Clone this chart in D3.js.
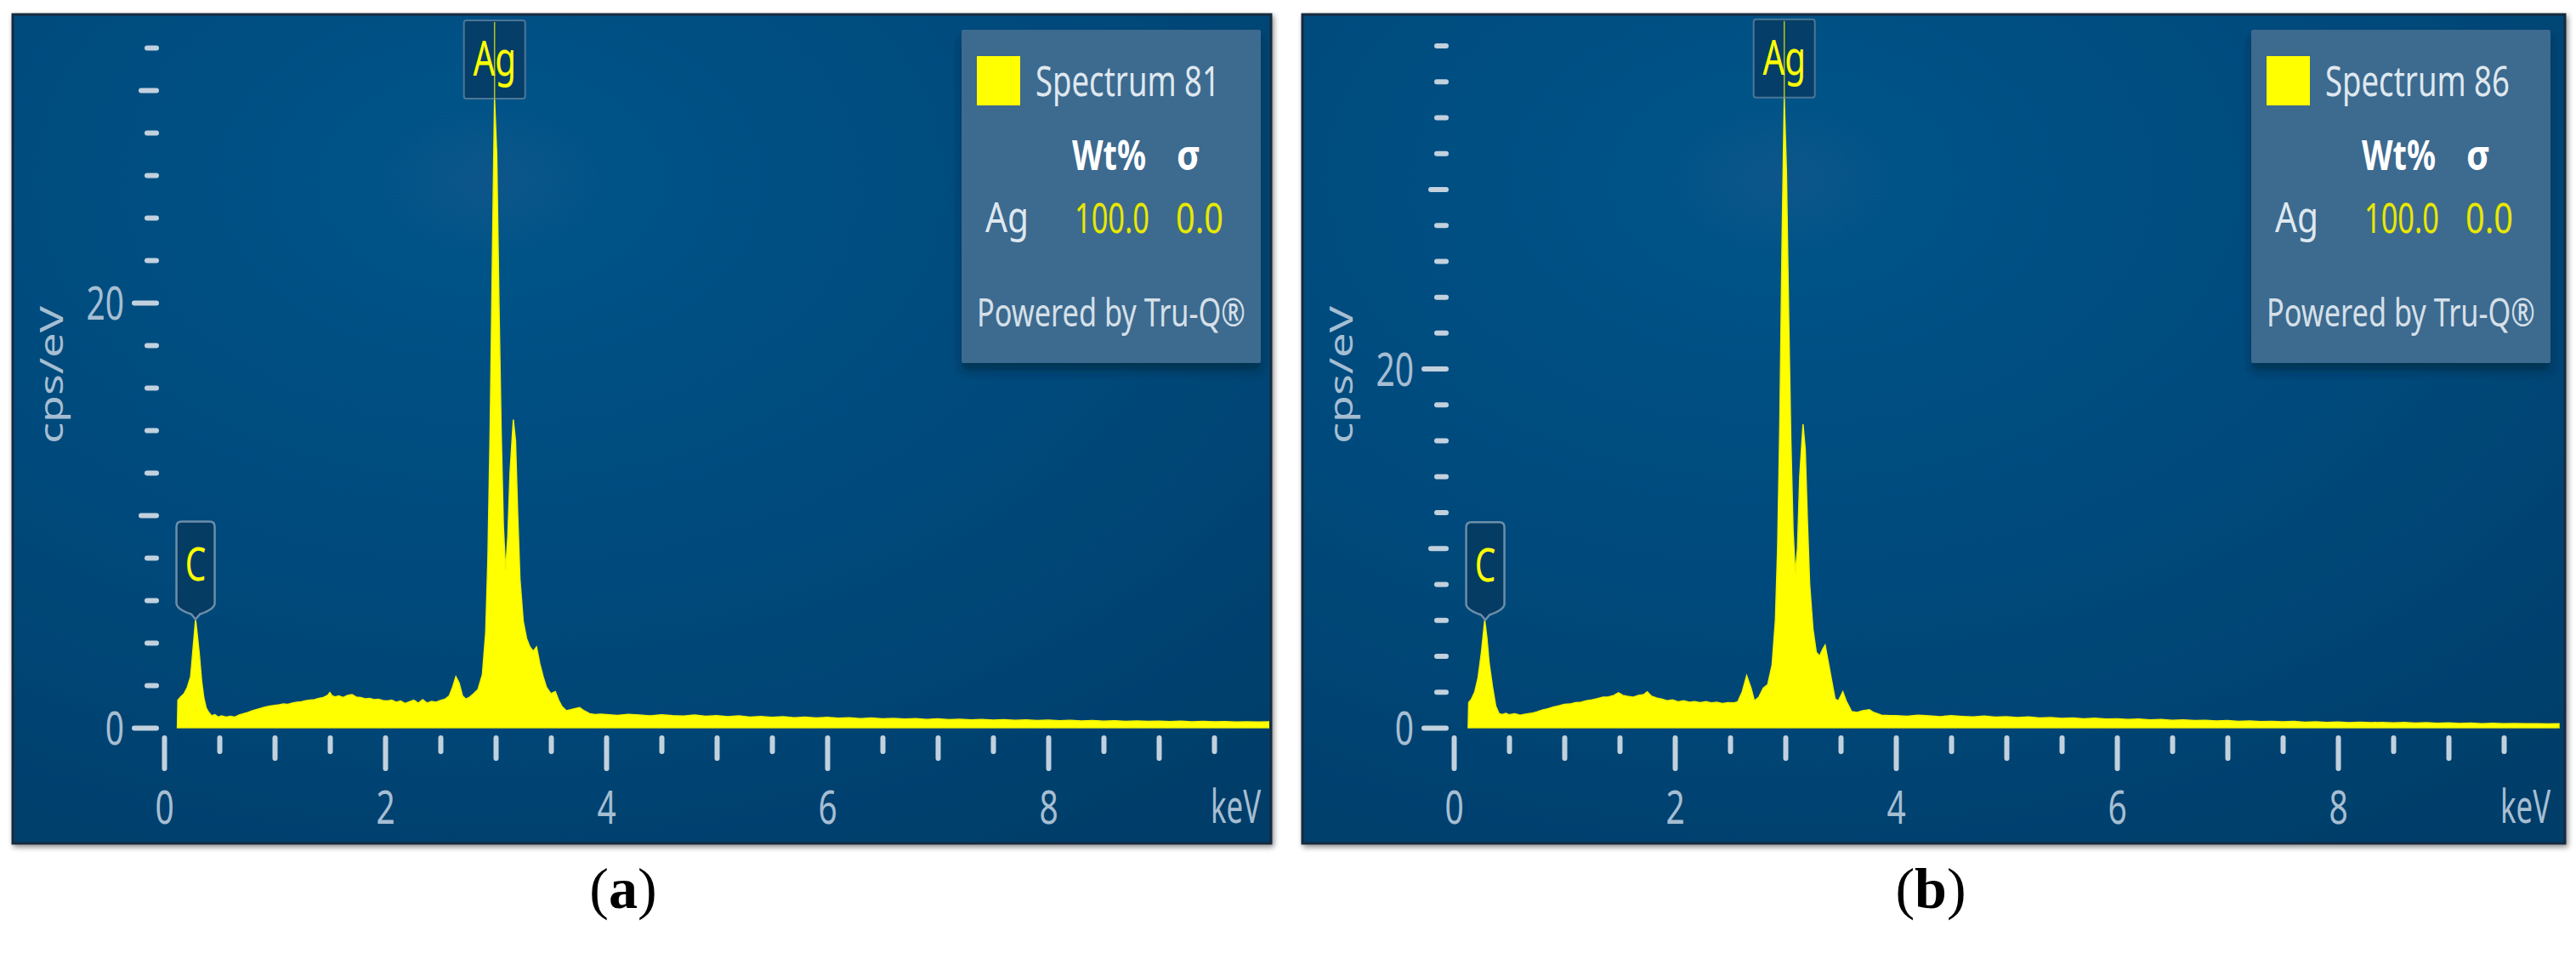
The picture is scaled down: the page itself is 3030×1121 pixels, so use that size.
<!DOCTYPE html>
<html><head><meta charset="utf-8">
<script src="https://cdn.jsdelivr.net/npm/d3@7"></script>
<style>
html,body{margin:0;padding:0;background:#ffffff;}
svg{display:block;}
</style></head><body>
<svg id="chart" width="3030" height="1121"></svg>
<script>
// ---------------- DATA ----------------
// Spectrum (a): [keV, cps/eV] (below 4 keV)
const spectrumLowA = [
[0.12,0],[0.125,1.3],[0.15,1.45],[0.18,1.6],[0.21,1.9],[0.24,2.4],[0.26,3.6],[0.285,5.1],[0.30,4.4],[0.32,3.4],
[0.34,2.2],[0.36,1.4],[0.38,0.95],[0.40,0.75],[0.43,0.56],[0.46,0.62],[0.49,0.5],[0.52,0.56],[0.56,0.5],[0.60,0.54],
[0.64,0.5],[0.68,0.6],[0.72,0.66],[0.76,0.72],[0.80,0.8],[0.84,0.86],[0.88,0.92],[0.92,0.98],[0.96,1.02],[1.00,1.05],
[1.04,1.08],[1.08,1.12],[1.12,1.1],[1.16,1.16],[1.20,1.2],[1.24,1.22],[1.28,1.27],[1.32,1.3],[1.36,1.32],[1.40,1.38],
[1.44,1.42],[1.48,1.52],[1.50,1.66],[1.52,1.5],[1.55,1.45],[1.58,1.5],[1.62,1.42],[1.66,1.52],[1.70,1.56],[1.74,1.44],
[1.78,1.42],[1.82,1.36],[1.86,1.38],[1.90,1.32],[1.94,1.34],[1.98,1.28],[2.02,1.26],[2.06,1.3],[2.10,1.2],[2.14,1.26],
[2.18,1.14],[2.22,1.22],[2.26,1.3],[2.30,1.16],[2.34,1.32],[2.38,1.16],[2.42,1.24],[2.46,1.2],[2.50,1.28],[2.54,1.34],
[2.58,1.5],[2.61,1.9],[2.64,2.4],[2.67,2.1],[2.70,1.5],[2.73,1.35],[2.76,1.42],[2.80,1.6],[2.84,1.8],[2.88,2.5],
[2.91,4.5],[2.93,8],[2.95,14],[2.97,22],[2.99,29.6],[3.01,27],[3.03,20],[3.05,14],[3.07,9.5],[3.09,7.4],
[3.11,9],[3.13,12],[3.16,14.5],[3.18,13.5],[3.20,10],[3.22,7],[3.25,5],[3.28,4.2],[3.31,3.8],[3.34,3.6],
[3.37,3.8],[3.40,3.0],[3.43,2.4],[3.46,1.9],[3.50,1.6],[3.54,1.7],[3.57,1.3],[3.60,1.0],[3.64,0.8],[3.68,0.85],
[3.72,0.9],[3.76,0.95],[3.80,0.8],[3.85,0.66],[3.90,0.62],[3.95,0.64]
];
// Spectrum (b)
const spectrumLowB = [
[0.13,0],[0.135,1.4],[0.16,1.6],[0.19,2.0],[0.22,2.8],[0.25,4.2],[0.28,6.0],[0.30,5.0],[0.32,3.6],[0.35,2.3],
[0.38,1.2],[0.41,0.78],[0.44,0.74],[0.47,0.8],[0.50,0.72],[0.55,0.78],[0.60,0.7],[0.65,0.76],[0.70,0.8],[0.75,0.88],
[0.80,0.98],[0.85,1.05],[0.90,1.15],[0.95,1.22],[1.00,1.3],[1.05,1.32],[1.10,1.4],[1.15,1.42],[1.20,1.5],[1.25,1.55],
[1.30,1.62],[1.35,1.7],[1.40,1.72],[1.45,1.8],[1.49,1.95],[1.53,1.8],[1.57,1.75],[1.62,1.7],[1.67,1.8],[1.72,1.85],
[1.75,2.0],[1.79,1.75],[1.84,1.65],[1.88,1.6],[1.93,1.5],[1.98,1.55],[2.03,1.45],[2.08,1.5],[2.13,1.42],[2.18,1.45],
[2.23,1.4],[2.28,1.45],[2.33,1.38],[2.38,1.42],[2.43,1.35],[2.48,1.4],[2.53,1.38],[2.57,1.45],[2.61,2.0],[2.65,2.9],
[2.69,2.2],[2.72,1.5],[2.76,1.7],[2.80,2.2],[2.84,2.4],[2.88,3.5],[2.91,6],[2.93,10],[2.95,17],[2.97,27],
[2.99,35.1],[3.01,31],[3.03,23],[3.05,16],[3.07,11],[3.09,8.6],[3.11,10],[3.13,14],[3.16,16.9],[3.18,15.5],
[3.20,11.5],[3.22,8],[3.25,5.5],[3.28,4.2],[3.31,4.0],[3.34,4.4],[3.36,4.6],[3.39,3.6],[3.42,2.6],[3.45,1.6],
[3.48,1.5],[3.52,2.0],[3.55,1.5],[3.60,0.9],[3.65,0.85],[3.70,0.95],[3.76,1.0],[3.80,0.85],[3.87,0.7],[3.95,0.68]
];
// Background channels 4.0 - 10.0 keV
const bgEnergy = [4.0,4.1,4.2,4.3,4.4,4.5,4.6,4.7,4.8,4.9,5.0,5.1,5.2,5.3,5.4,5.5,5.6,5.7,5.8,5.9,6.0,
6.1,6.2,6.3,6.4,6.5,6.6,6.7,6.8,6.9,7.0,7.1,7.2,7.3,7.4,7.5,7.6,7.7,7.8,7.9,8.0,
8.1,8.2,8.3,8.4,8.5,8.6,8.7,8.8,8.9,9.0,9.1,9.2,9.3,9.4,9.5,9.6,9.7,9.8,9.9,10.0];
const bgCountsA = [0.62,0.58,0.63,0.6,0.56,0.61,0.57,0.55,0.6,0.54,0.57,
0.52,0.56,0.5,0.53,0.49,0.52,0.47,0.5,0.46,0.49,
0.45,0.47,0.43,0.46,0.42,0.44,0.41,0.43,0.39,0.42,
0.38,0.4,0.37,0.39,0.36,0.38,0.35,0.37,0.34,0.36,
0.33,0.35,0.32,0.34,0.31,0.33,0.3,0.32,0.3,0.31,
0.29,0.31,0.28,0.3,0.28,0.29,0.27,0.28,0.27,0.28];
const bgCountsB = [0.68,0.64,0.7,0.66,0.62,0.67,0.63,0.6,0.65,0.59,0.62,
0.57,0.6,0.54,0.57,0.52,0.55,0.5,0.53,0.48,0.5,
0.46,0.48,0.44,0.46,0.42,0.44,0.4,0.42,0.38,0.4,
0.36,0.38,0.34,0.36,0.33,0.35,0.31,0.33,0.3,0.32,
0.29,0.31,0.28,0.3,0.27,0.29,0.26,0.28,0.25,0.27,
0.24,0.26,0.23,0.25,0.22,0.24,0.22,0.23,0.21,0.22];

const peakLabels = ["C","Ag"];
const peakEnergyC = 0.285, peakEnergyAg = 2.99;
const peakHeightCA = 5.1, peakHeightAgA = 29.6;
const peakHeightCB = 6.0, peakHeightAgB = 35.1;

const xTicksMajor = [0,2,4,6,8];
const xTicksMid = [1,3,5,7,9];
const xTicksMinor = [0.5,1.5,2.5,3.5,4.5,5.5,6.5,7.5,8.5,9.5];
const yTicksLabeled = [0,20];
const yTicksMid = [10,30];
const yTicksMinorA = [2,4,6,8,12,14,16,18,22,24,26,28,32];
const yTicksMinorB = [2,4,6,8,12,14,16,18,22,24,26,28,32,34,36,38];
const yMaxA = 33.2, yMaxB = 39.3;

const spectrumNames = ["Spectrum 81","Spectrum 86"];
const legendElement = "Ag";
const legendWt = ["100.0","100.0"];
const legendSigma = ["0.0","0.0"];
const captions = ["a","b"];

// ---------------- DRAW ----------------
const svg = d3.select('#chart');
const defs = svg.append('defs');
const grad = defs.append('radialGradient').attr('id','bg')
  .attr('cx',0.38).attr('cy',0.2).attr('r',0.95);
grad.append('stop').attr('offset',0).attr('stop-color','#07558a');
grad.append('stop').attr('offset',0.5).attr('stop-color','#024a7c');
grad.append('stop').attr('offset',1).attr('stop-color','#013d69');

const fs = defs.append('filter').attr('id','frameShadow').attr('x','-2%').attr('y','-2%').attr('width','104%').attr('height','105%');
fs.append('feDropShadow').attr('dx',2).attr('dy',3).attr('stdDeviation',3).attr('flood-color','#000').attr('flood-opacity',0.45);
const ls = defs.append('filter').attr('id','legendShadow').attr('x','-10%').attr('y','-10%').attr('width','120%').attr('height','125%');
ls.append('feDropShadow').attr('dx',0).attr('dy',9).attr('stdDeviation',6).attr('flood-color','#001a33').attr('flood-opacity',0.55);

const TICK = '#c2d1de', LABEL = '#a6bed2', YEL = '#ffff00';
const FONT = "'Noto Sans','Open Sans',sans-serif";
const SQ = 0.72;

// place a text so that it starts at x0 with baseline yb and spans targetLen pixels
function fitText(sel, x0, yb, targetLen) {
  const len = sel.node().getComputedTextLength();
  const s = targetLen / len;
  sel.attr('x', 0).attr('y', 0).attr('transform', `translate(${x0},${yb}) scale(${s},1)`);
}

const panels = [
  {left:15, top:17, width:1480, height:975, low:spectrumLowA, bg:bgCountsA, yMax:yMaxA, yMinor:yTicksMinorA,
   cH:peakHeightCA, agH:peakHeightAgA, idx:0, capX:733},
  {left:1532, top:17, width:1485, height:975, low:spectrumLowB, bg:bgCountsB, yMax:yMaxB, yMinor:yTicksMinorB,
   cH:peakHeightCB, agH:peakHeightAgB, idx:1, capX:2271}
];

panels.forEach(p => {
  const L = p.left;
  const g = svg.append('g');
  const clipId = 'clip' + p.idx;
  defs.append('clipPath').attr('id', clipId).append('rect')
    .attr('x', L+2).attr('y', p.top+2).attr('width', p.width-4).attr('height', p.height-4);

  g.append('rect').attr('x', L).attr('y', p.top).attr('width', p.width).attr('height', p.height)
    .attr('fill','url(#bg)').attr('stroke','#142a3c').attr('stroke-width',3).attr('filter','url(#frameShadow)');

  const x = d3.scaleLinear().domain([0,10]).range([L+178, L+1478]);
  const y = d3.scaleLinear().domain([0,p.yMax]).range([856, 26]);

  // spectrum
  const data = p.low.concat(bgEnergy.map((e,i)=>[e, p.bg[i]]));
  const area = d3.area().x(d=>x(d[0])).y0(y(0)).y1(d=>y(d[1]));
  g.append('path').datum(data).attr('d', area).attr('fill', YEL)
    .attr('stroke', '#f2f200').attr('stroke-width', 1.5).attr('clip-path', `url(#${clipId})`);

  // y axis
  const yAxisX = L + 172;
  function yAxis(vals, size, labeled) {
    const ax = d3.axisLeft(y).tickValues(vals).tickSize(size).tickPadding(9)
      .tickFormat(labeled ? d=>String(d) : ()=>'');
    const ag = g.append('g').attr('transform', `translate(${yAxisX},0)`).call(ax);
    ag.select('.domain').remove();
    ag.selectAll('line').attr('stroke', TICK).attr('stroke-width', 6).attr('stroke-linecap','round')
      .attr('x1', -3).attr('x2', -size+3);
    ag.selectAll('text').attr('fill', LABEL).attr('font-family', FONT).attr('font-size', 54)
      .attr('x', -(size+9)/SQ).attr('dy','0.36em').attr('transform', `scale(${SQ},1)`);
  }
  yAxis(p.yMinor, 17, false);
  yAxis(yTicksMid, 24, false);
  yAxis(yTicksLabeled, 32, true);

  // x axis
  const xAxisY = 865;
  function xAxis(vals, size, labeled) {
    const ax = d3.axisBottom(x).tickValues(vals).tickSize(size).tickPadding(8)
      .tickFormat(labeled ? d=>String(d) : ()=>'');
    const ag = g.append('g').attr('transform', `translate(0,${xAxisY})`).call(ax);
    ag.select('.domain').remove();
    ag.selectAll('line').attr('stroke', TICK).attr('stroke-width', 6).attr('stroke-linecap','round')
      .attr('y1', 3).attr('y2', size-3);
    ag.selectAll('text').attr('fill', LABEL).attr('font-family', FONT).attr('font-size', 54)
      .attr('x', 0).attr('y', 104).attr('dy', 0).attr('transform', `scale(${SQ},1)`);
  }
  xAxis(xTicksMinor, 22, false);
  xAxis(xTicksMid, 30, false);
  xAxis(xTicksMajor, 42, true);

  const kev = g.append('text').text('keV').attr('fill', LABEL)
    .attr('font-family', FONT).attr('font-size', 54);
  fitText(kev, L+1409, 968, 59);

  // y axis title
  g.append('text').text('cps/eV')
    .attr('transform', `translate(${L+46},441) rotate(-90) scale(1,${SQ})`)
    .attr('text-anchor','middle').attr('dy','0.35em').attr('fill', LABEL)
    .attr('font-family', FONT).attr('font-size', 52);

  // C label (pin)
  const cx = x(peakEnergyC), tip = y(p.cH);
  const bw = 45, T = tip - 115, B = tip - 15, Lx = cx - bw/2, Rx = cx + bw/2, r = 6;
  const pin = `M${Lx+r},${T} H${Rx-r} Q${Rx},${T} ${Rx},${T+r} V${B-4} Q${Rx},${B+3} ${cx+5},${B+9} L${cx},${tip} L${cx-5},${B+9} Q${Lx},${B+3} ${Lx},${B-4} V${T+r} Q${Lx},${T} ${Lx+r},${T} Z`;
  g.append('path').attr('d', pin).attr('fill','#063a60').attr('fill-opacity',0.85)
    .attr('stroke','#6c8ea9').attr('stroke-width',2.5);
  g.append('text').text(peakLabels[0]).attr('transform', `translate(${cx},${(T+B)/2}) scale(${SQ},1)`)
    .attr('text-anchor','middle').attr('dy','0.36em').attr('fill', YEL)
    .attr('font-family', FONT).attr('font-size', 54);

  // Ag label box
  const ax0 = x(peakEnergyAg), agB = y(p.agH), agT = agB - 92;
  g.append('rect').attr('x', ax0-36).attr('y', agT).attr('width', 72).attr('height', 92).attr('rx', 3)
    .attr('fill','#063a60').attr('fill-opacity',0.8).attr('stroke','#5f829e').attr('stroke-width',2).attr('stroke-opacity',0.8);
  g.append('line').attr('x1', ax0).attr('x2', ax0).attr('y1', agT+2).attr('y2', agB)
    .attr('stroke', YEL).attr('stroke-width', 1.5).attr('stroke-opacity', 0.7);
  g.append('text').text(peakLabels[1]).attr('transform', `translate(${ax0},${agT+65}) scale(${SQ},1)`)
    .attr('text-anchor','middle').attr('fill', YEL)
    .attr('font-family', FONT).attr('font-size', 56);

  // legend
  const lg = g.append('g');
  lg.append('rect').attr('x', L+1116).attr('y', 35).attr('width', 352).attr('height', 392).attr('rx', 2)
    .attr('fill', '#3c6b8f').attr('filter','url(#legendShadow)');
  lg.append('rect').attr('x', L+1134).attr('y', 66).attr('width', 51).attr('height', 58).attr('fill', YEL);
  function lt(str, x0, yb, len, size, fill, weight) {
    const t = lg.append('text').text(str).attr('fill', fill).attr('font-family', FONT)
      .attr('font-size', size).attr('font-weight', weight || 'normal');
    fitText(t, x0, yb, len);
  }
  lt(spectrumNames[p.idx], L+1203, 113, 217, 50, '#dfe8ef');
  lt('Wt%', L+1246, 200, 87, 48, '#ffffff', 'bold');
  lt('σ', L+1369, 200, 28, 48, '#ffffff', 'bold');
  lt(legendElement, L+1144, 273, 51, 50, '#dfe8ef');
  lt(legendWt[p.idx], L+1249, 274, 88, 50, '#e8e800');
  lt(legendSigma[p.idx], L+1368, 274, 56, 50, '#e8e800');
  lt('Powered by Tru-Q®', L+1134, 384, 316, 46, '#d6e0e8');

  // caption
  const cap = svg.append('text').attr('x', p.capX).attr('y', 1068).attr('text-anchor','middle')
    .attr('font-family', "'Liberation Serif','Times New Roman',serif").attr('font-size', 68).attr('fill','#000');
  cap.append('tspan').text('(');
  cap.append('tspan').text(captions[p.idx]).attr('font-weight','bold');
  cap.append('tspan').text(')');
});
</script>
</body></html>
